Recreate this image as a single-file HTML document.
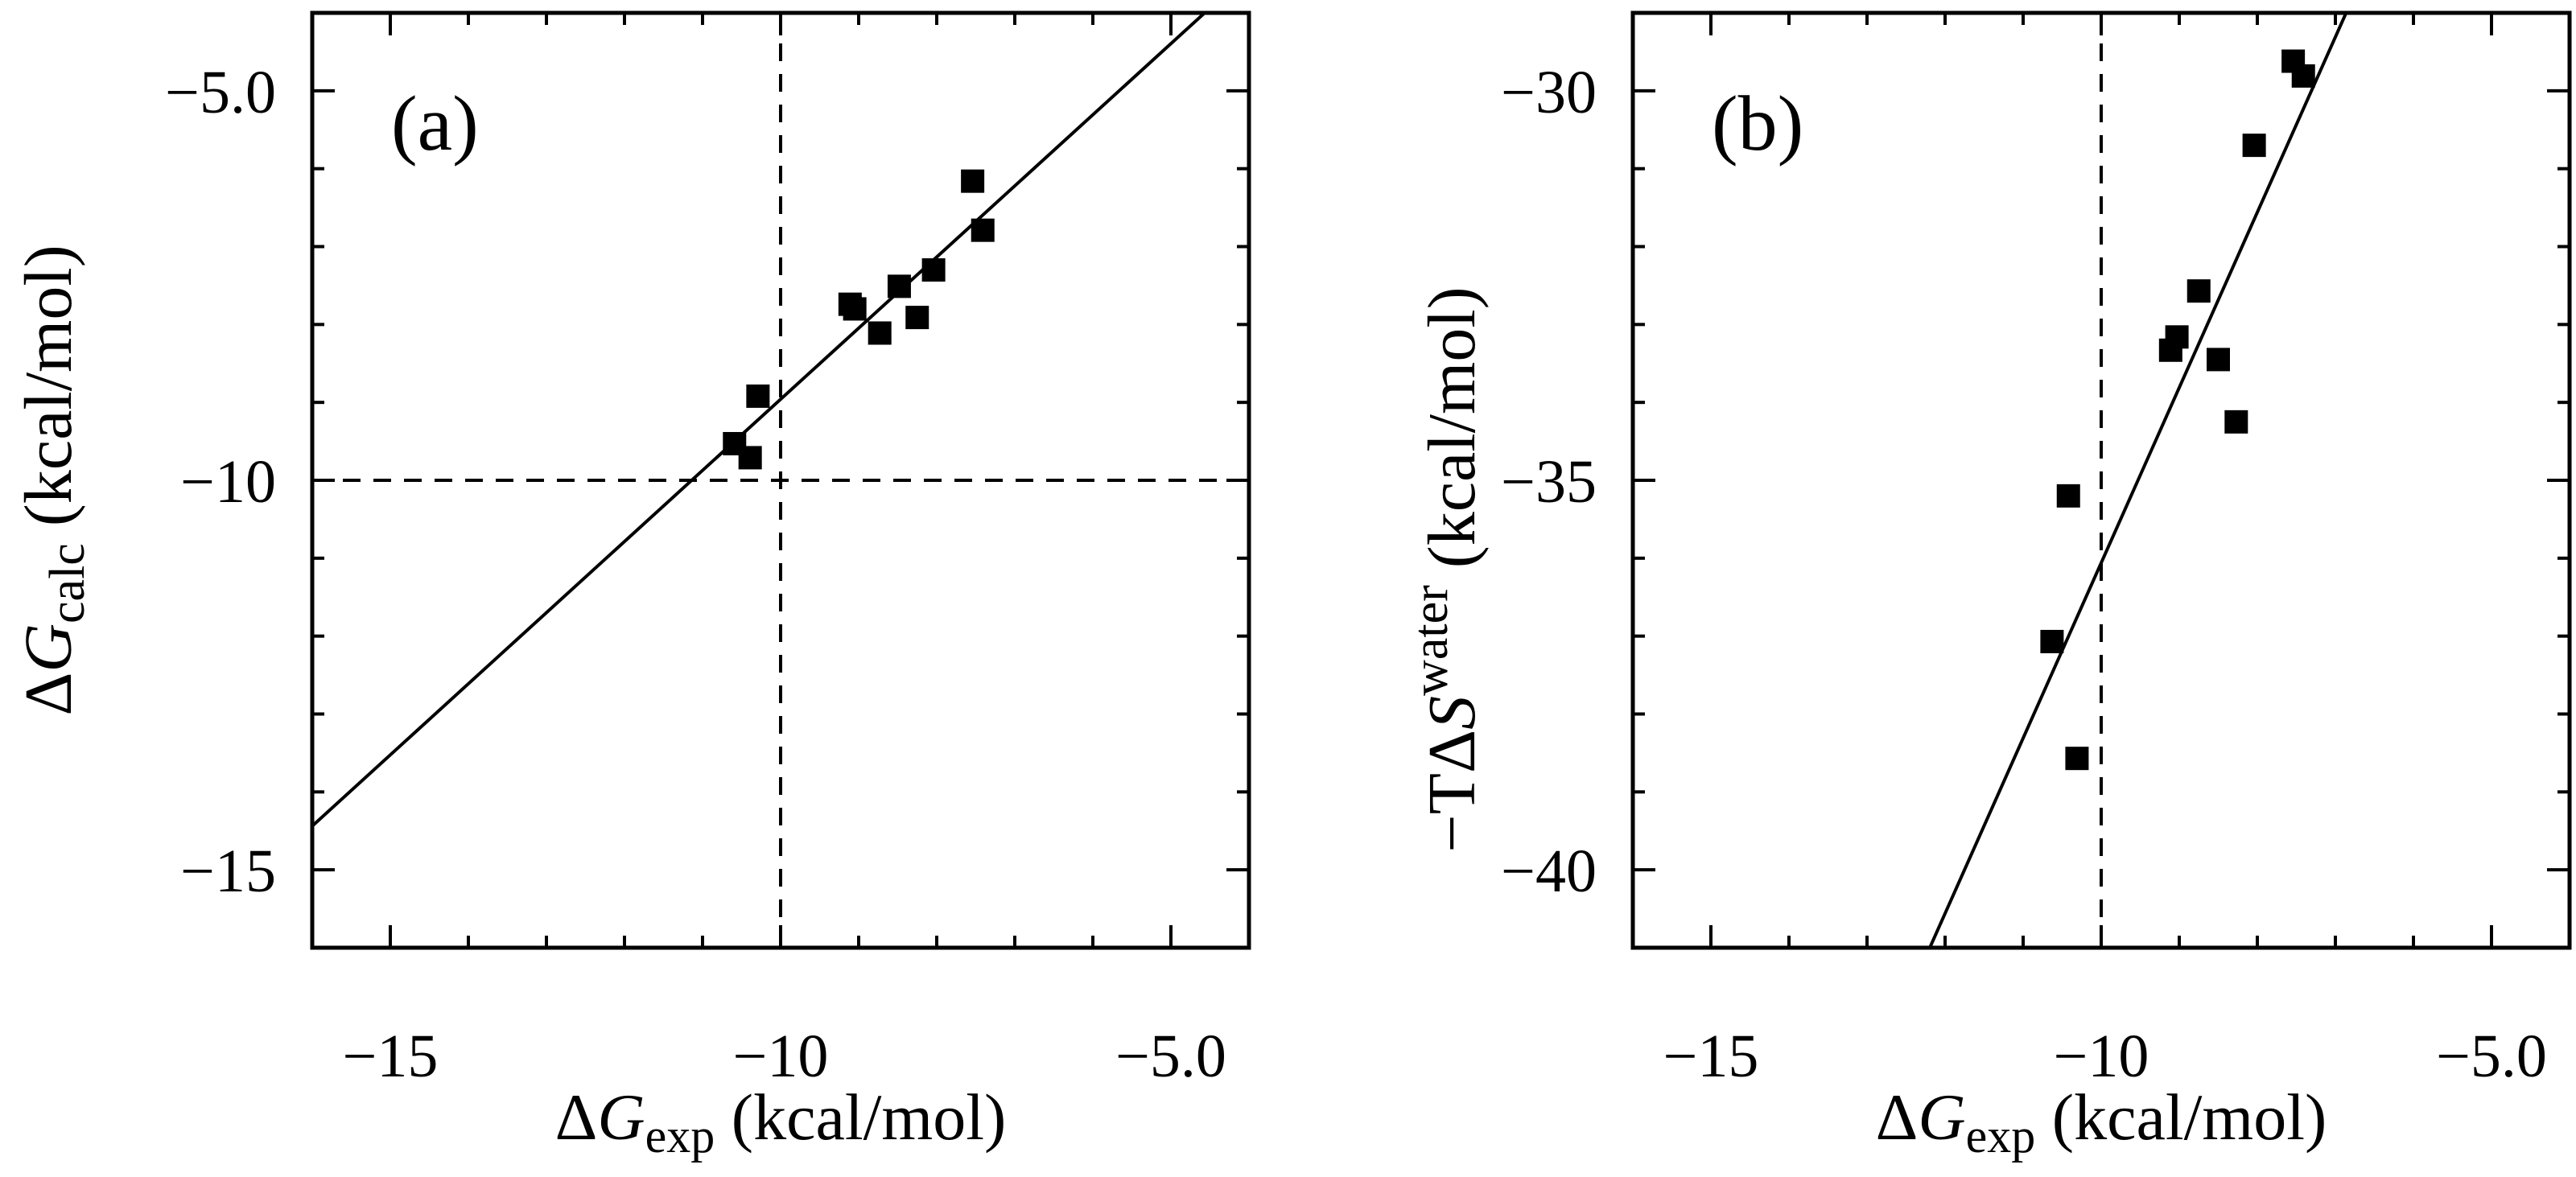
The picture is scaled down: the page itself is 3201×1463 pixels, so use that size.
<!DOCTYPE html>
<html><head><meta charset="utf-8"><style>
html,body{margin:0;padding:0;background:#fff;overflow:hidden;width:3201px;height:1463px;}
svg{display:block;font-family:"Liberation Serif","Times New Roman",serif;}
</style></head><body>
<svg id="chart" width="3201" height="1463" viewBox="0 0 3201 1463" xmlns="http://www.w3.org/2000/svg"></svg>
<script>
const NS="http://www.w3.org/2000/svg";
// Panel (a) data
const aX=[-7.54,-7.41,-8.04,-8.48,-9.11,-9.05,-8.73,-8.25,-10.29,-10.59,-10.39];
const aY=[-6.16,-6.79,-7.30,-7.51,-7.74,-7.80,-8.11,-7.91,-8.92,-9.53,-9.71];
const aFit=[0.17,0.913]; // intercept, slope
const aXTicks=[-15,-10,-5];
const aXTickLabels=["\u221215","\u221210","\u22125.0"];
const aYTicks=[-5,-10,-15];
const aYTickLabels=["\u22125.0","\u221210","\u221215"];
// Panel (b) data
const bX=[-7.54,-7.41,-8.04,-8.75,-9.03,-9.11,-8.50,-8.27,-10.42,-10.63,-10.31];
const bY=[-29.62,-29.81,-30.70,-32.57,-33.16,-33.33,-33.45,-34.25,-35.20,-37.07,-38.57];
const bFit=[-13.56,2.25];
const bXTicks=[-15,-10,-5];
const bXTickLabels=["\u221215","\u221210","\u22125.0"];
const bYTicks=[-30,-35,-40];
const bYTickLabels=["\u221230","\u221235","\u221240"];

const svg=document.getElementById('chart');
function el(tag,attrs,parent){const e=document.createElementNS(NS,tag);for(const k in attrs)e.setAttribute(k,attrs[k]);(parent||svg).appendChild(e);return e;}

function panel(opt){
  const g=el('g',{});
  
  
  const L=opt.left,R=opt.left+1164,T=16,B=1178;
  const sx=v=>L+(v-opt.xmin)/(opt.xmax-opt.xmin)*(R-L);
  const sy=v=>B-(v-opt.ymin)/(opt.ymax-opt.ymin)*(B-T);
  const cid='clip'+opt.id;
  const cp=el('clipPath',{id:cid},g);el('rect',{x:L,y:T,width:R-L,height:B-T},cp);
  if(opt.vdash!==undefined){const d=el('line',{x1:sx(opt.vdash),x2:sx(opt.vdash),y1:T,y2:B,stroke:'#000','stroke-width':4,'stroke-dasharray':'22,16'},g);
    }
  if(opt.hdash!==undefined){const d=el('line',{x1:L,x2:R,y1:sy(opt.hdash),y2:sy(opt.hdash),stroke:'#000','stroke-width':4,'stroke-dasharray':'22,16'},g);
    }
  const fl=el('line',{x1:sx(opt.xmin),y1:sy(opt.fit[0]+opt.fit[1]*opt.xmin),x2:sx(opt.xmax),y2:sy(opt.fit[0]+opt.fit[1]*opt.xmax),stroke:'#000','stroke-width':4,'clip-path':'url(#'+cid+')'},g);
  
  for(let i=0;i<opt.xs.length;i++){
    const r=el('rect',{x:sx(opt.xs[i])-14.5,y:sy(opt.ys[i])-14.5,width:29,height:29,fill:'#000'},g);
    
    
  }
  for(let v=Math.ceil(opt.xmin);v<=opt.xmax;v++){
    const len=(v%5===0)?28:15;
    el('line',{x1:sx(v),x2:sx(v),y1:B,y2:B-len,stroke:'#000','stroke-width':4},g);
    el('line',{x1:sx(v),x2:sx(v),y1:T,y2:T+len,stroke:'#000','stroke-width':4},g);
  }
  for(let v=Math.ceil(opt.ymin);v<=opt.ymax;v++){
    const len=(v%5===0)?28:15;
    el('line',{x1:L,x2:L+len,y1:sy(v),y2:sy(v),stroke:'#000','stroke-width':4},g);
    el('line',{x1:R,x2:R-len,y1:sy(v),y2:sy(v),stroke:'#000','stroke-width':4},g);
  }
  const fr=el('rect',{x:L,y:T,width:R-L,height:B-T,fill:'none',stroke:'#000','stroke-width':5},g);
  
  opt.xticks.forEach((v,i)=>{const t=el('text',{x:sx(v),y:1338,'font-size':76,'text-anchor':'middle'},g);t.textContent=opt.xlabels[i];
    });
  opt.yticks.forEach((v,i)=>{const t=el('text',{x:L-45,y:sy(v)+27,'font-size':76,'text-anchor':'end'},g);t.textContent=opt.ylabels[i];
    });
  const pl=el('text',{x:L+98,y:186,'font-size':98},g);pl.textContent=opt.tag;
  
  const xt=el('text',{x:(L+R)/2,y:1416,'font-size':82,'text-anchor':'middle'},g);
  xt.innerHTML='\u0394<tspan font-style="italic">G</tspan><tspan font-size="60" dy="16">exp</tspan><tspan dy="-16"> (kcal/mol)</tspan>';
  
  const yt=el('text',{x:0,y:0,'font-size':84,'text-anchor':'middle',transform:'translate('+opt.ytx+','+opt.yty+') rotate(-90)'},g);
  yt.innerHTML=opt.ytitle;
  
}
panel({id:'a',name:'panel-a',left:388,xmin:-16,xmax:-4,ymin:-16,ymax:-4,xs:aX,ys:aY,fit:aFit,vdash:-10,hdash:-10,
  xticks:aXTicks,xlabels:aXTickLabels,yticks:aYTicks,ylabels:aYTickLabels,tag:'(a)',ytx:88,yty:597,
  ytitle:'\u0394<tspan font-style="italic">G</tspan><tspan font-size="62" dy="16">calc</tspan><tspan dy="-16"> (kcal/mol)</tspan>'});
panel({id:'b',name:'panel-b',left:2029,xmin:-16,xmax:-4,ymin:-41,ymax:-29,xs:bX,ys:bY,fit:bFit,vdash:-10,
  xticks:bXTicks,xlabels:bXTickLabels,yticks:bYTicks,ylabels:bYTickLabels,tag:'(b)',ytx:1832,yty:708,
  ytitle:'\u2212T\u0394<tspan font-style="italic">S</tspan><tspan font-size="62" dy="-34">water</tspan><tspan dy="34"> (kcal/mol)</tspan>'});
</script>
</body></html>
